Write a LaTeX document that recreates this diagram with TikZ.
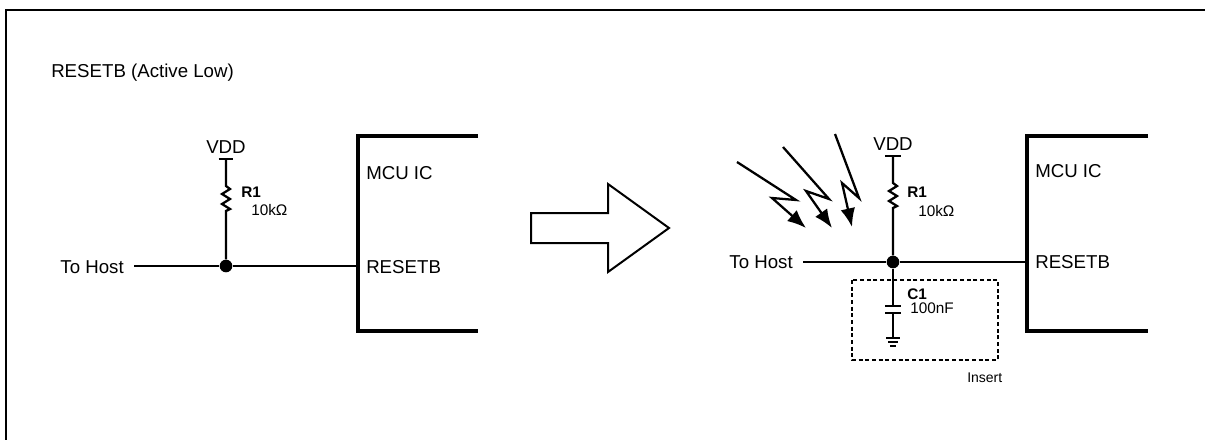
\documentclass[tikz,border=0pt]{standalone}
\usepackage{fontspec}
\setmainfont{Liberation Sans}
\usetikzlibrary{arrows.meta}

\begin{document}
\begin{tikzpicture}[x=0.75pt,y=-0.75pt,
	wire/.style={line width=1.7pt},
	chip/.style={line width=2.4pt},
	lbl/.style={inner sep=0pt,font=\fontsize{14}{16}\selectfont},
	val/.style={inner sep=0pt,font=\fontsize{11.5}{13}\selectfont},
	jdot/.style={circle,fill=black,inner sep=0pt,minimum size=9.5pt},
	zap/.style={line width=1.7pt,-{Latex[length=14pt,width=11pt]}}]
\clip (0,0) rectangle (1205,439);
\draw [line width=2.2pt] (6,445) -- (6,10) -- (1210,10);
\node [lbl,anchor=base west] (title) at (51,77) {RESETB (Active Low)};

% before
\node [lbl,anchor=base] (vddLt) at (226,153) {VDD};
\coordinate (vddL) at (226,159);
\coordinate (r1La) at (226,186);
\coordinate (r1Lb) at (226,211);
\node [val,anchor=base west] (r1Lt) at (241,197) {\bfseries R1};
\node [val,anchor=base west] (r1Lv) at (251,215) {10kΩ};
\node [jdot] (jL) at (226,266) {};
\coordinate (hostL) at (134,266);
\node [lbl,anchor=base east] (hostLt) at (124,273) {To Host};
\coordinate (pinL) at (358,266);
\coordinate (icLa) at (478,136);
\coordinate (icLb) at (358,136);
\coordinate (icLc) at (358,331);
\coordinate (icLd) at (478,331);
\node [lbl,anchor=base west] (mcuLt) at (366,179) {MCU IC};
\node [lbl,anchor=base west] (rstLt) at (366,273) {RESETB};
\draw [wire] ([xshift=-5.6pt]vddL) -- ([xshift=5.6pt]vddL);
\draw [wire] (vddL) -- (r1La) -- ++(4,3) -- ++(-8,5) -- ++(8,5) -- ++(-8,5)
	-- ++(8,5) -- (r1Lb) -- (jL);
\draw [wire] (hostL) -- (jL) -- (pinL);
\draw [chip] (icLa) -- (icLb) -- (icLc) -- (icLd);

% big arrow
\draw [line width=1.5pt] (531,213) -- (608,213) -- (608,184) -- (669,228)
	-- (608,272) -- (608,243) -- (531,243) -- cycle;

% after
\draw [zap] (737,162) -- (796,200) -- (772,198) -- (806,228);
\draw [zap] (783,147) -- (829,199) -- (806,191) -- (832,228);
\draw [zap] (835,134) -- (859,198) -- (842,183) -- (852,227);
\node [lbl,anchor=base] (vddRt) at (893,150) {VDD};
\coordinate (vddR) at (893,156);
\coordinate (r1Ra) at (893,183);
\coordinate (r1Rb) at (893,208);
\node [val,anchor=base west] (r1Rt) at (907,197) {\bfseries R1};
\node [val,anchor=base west] (r1Rv) at (918,216) {10kΩ};
\node [jdot] (jR) at (893,262) {};
\coordinate (hostR) at (803,262);
\node [lbl,anchor=base east] (hostRt) at (793,268) {To Host};
\coordinate (pinR) at (1027,262);
\coordinate (icRa) at (1148,136);
\coordinate (icRb) at (1027,136);
\coordinate (icRc) at (1027,331);
\coordinate (icRd) at (1148,331);
\node [lbl,anchor=base west] (mcuRt) at (1035,177) {MCU IC};
\node [lbl,anchor=base west] (rstRt) at (1035,268) {RESETB};
\draw [wire] ([xshift=-6pt]vddR) -- ([xshift=6pt]vddR);
\draw [wire] (vddR) -- (r1Ra) -- ++(4,3) -- ++(-8,5) -- ++(8,5) -- ++(-8,5)
	-- ++(8,5) -- (r1Rb) -- (jR);
\draw [wire] (hostR) -- (jR) -- (pinR);
\draw [chip] (icRa) -- (icRb) -- (icRc) -- (icRd);

% insert
\coordinate (c1a) at (893,306);
\coordinate (c1b) at (893,313);
\coordinate (gnd1) at (893,338);
\coordinate (gnd2) at (893,342);
\coordinate (gnd3) at (893,346);
\node [val,anchor=base west] (c1t) at (907,299) {\bfseries C1};
\node [val,anchor=base west] (c1v) at (910,313) {100nF};
\draw [wire] (jR) -- (c1a);
\draw [wire] ([xshift=-6pt]c1a) -- ([xshift=6pt]c1a);
\draw [wire] ([xshift=-6pt]c1b) -- ([xshift=6pt]c1b);
\draw [wire] (c1b) -- (gnd1);
\draw [line width=1.2pt] ([xshift=-4.9pt]gnd1) -- ([xshift=4.9pt]gnd1);
\draw [line width=1.2pt] ([xshift=-3.4pt]gnd2) -- ([xshift=3.4pt]gnd2);
\draw [line width=1.2pt] ([xshift=-1.9pt]gnd3) -- ([xshift=1.9pt]gnd3);
\draw [line width=1.7pt,dash pattern=on 3pt off 2pt] (852,280) rectangle (998,360);
\node [inner sep=0pt,anchor=base west,font=\fontsize{10.5}{12}\selectfont] (ins) at (967,382) {Insert};
\end{tikzpicture}
\end{document}
